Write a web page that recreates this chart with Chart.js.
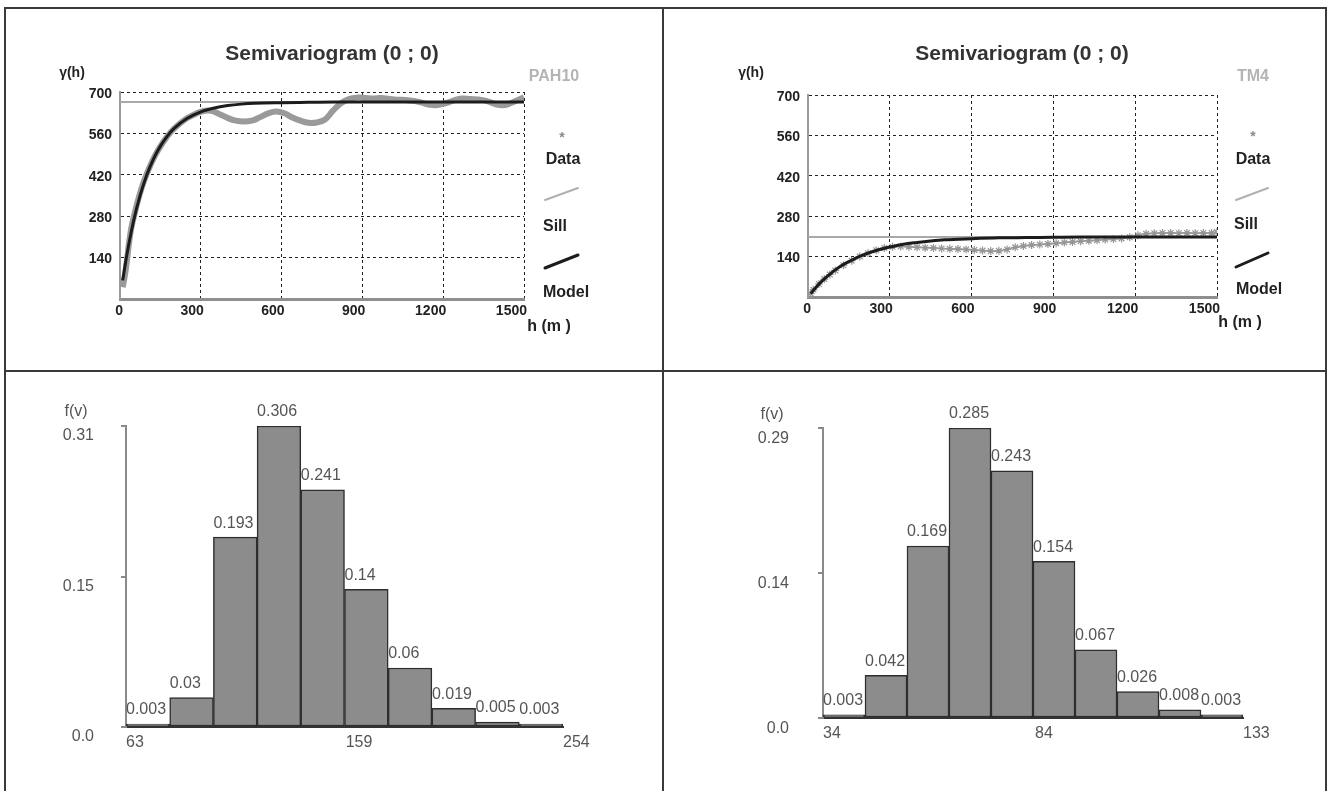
<!DOCTYPE html>
<html lang="en">
<head>
    <meta charset="UTF-8">
    <title>Semivariograms and histograms</title>
    <style type="text/css">
        body { margin: 0; background: #fff; width: 1329px; height: 791px; overflow: hidden; position: relative; }
        .rule { position: absolute; background: #3a3a3a; }
        canvas { position: absolute; }
    </style>
</head>
<body>
    <div class="rule" style="left:4px;top:7px;width:1323px;height:2px"></div>
    <div class="rule" style="left:4px;top:7px;width:2px;height:784px"></div>
    <div class="rule" style="left:1325px;top:7px;width:2px;height:784px"></div>
    <div class="rule" style="left:662px;top:7px;width:2px;height:784px"></div>
    <div class="rule" style="left:4px;top:370px;width:1323px;height:2px"></div>

    <canvas id="semiA" width="656" height="361" style="left:6px;top:9px"></canvas>
    <canvas id="semiB" width="660" height="361" style="left:665px;top:9px"></canvas>
    <canvas id="histA" width="656" height="419" style="left:6px;top:372px"></canvas>
    <canvas id="histB" width="660" height="419" style="left:665px;top:372px"></canvas>

    <script src="https://cdn.jsdelivr.net/npm/chart.js"></script>
    <script>
    // semivariogram data (lag h in m)
    const lagModel = [10, 25, 50, 75, 100, 125, 150, 175, 200, 250, 300, 350, 400, 450, 500, 600, 700, 800, 900, 1000, 1100, 1200, 1300, 1400, 1500];
    const modelPAH10 = [63, 147, 262, 351, 421, 475, 517, 550, 576, 611, 633, 646, 654, 659, 662, 664, 665, 666, 666, 666, 666, 666, 666, 666, 666];
    const modelTM4 = [12, 29, 54, 75, 94, 110, 123, 135, 145, 161, 173, 183, 189, 194, 198, 202, 205, 206, 207, 208, 208, 208, 208, 208, 208];

    const lagData = [10, 20, 40, 60, 80, 100, 130, 160, 190, 220, 250, 280, 310, 340, 370, 400, 430, 460, 490, 520,
        550, 580, 610, 640, 670, 700, 730, 760, 790, 820, 850, 880, 910, 940, 970, 1000, 1030, 1060, 1090, 1120,
        1150, 1180, 1210, 1240, 1270, 1300, 1330, 1360, 1390, 1420, 1450, 1480, 1500];
    const dataPAH10 = [40, 90, 230, 310, 375, 425, 485, 530, 566, 592, 612, 626, 636, 636, 625, 612, 603, 600, 603, 615,
        628, 634, 628, 614, 603, 596, 597, 606, 636, 662, 676, 681, 680, 678, 680, 676, 674, 673, 670, 664,
        657, 656, 662, 672, 678, 676, 675, 670, 660, 655, 662, 674, 682];
    const dataTM4 = [12, 25, 45, 62, 78, 92, 110, 126, 140, 152, 162, 170, 174, 175, 174, 172, 171, 170, 168, 167,
        166, 165, 163, 161, 159, 160, 165, 172, 177, 180, 182, 184, 186, 189, 191, 193, 195, 197, 199, 201,
        203, 207, 214, 219, 221, 222, 222, 221, 222, 221, 222, 222, 225];

    const sillPAH10 = 666;
    const sillTM4 = 208;

    // histogram data
    const binCentersPAH = [72.55, 91.65, 110.75, 129.85, 148.95, 168.05, 187.15, 206.25, 225.35, 244.45];
    const freqPAH = [0.003, 0.03, 0.193, 0.306, 0.241, 0.14, 0.06, 0.019, 0.005, 0.003];
    const xTicksPAH = [63, 159, 254];
    const yTicksPAH = [0, 0.153, 0.306];
    const yLabelsPAH = ['0.0', '0.15', '0.31'];

    const binCentersTM = [38.95, 48.85, 58.75, 68.65, 78.55, 88.45, 98.35, 108.25, 118.15, 128.05];
    const freqTM = [0.003, 0.042, 0.169, 0.285, 0.243, 0.154, 0.067, 0.026, 0.008, 0.003];
    const xTicksTM = [34, 84, 133];
    const yTicksTM = [0, 0.1425, 0.285];
    const yLabelsTM = ['0.0', '0.14', '0.29'];

    const FONT = "'Liberation Sans', Arial, sans-serif";

    // extra texts and legend marks drawn on top of a chart
    function decor(items) {
        return {
            id: 'decor',
            afterDraw(chart) {
                const ctx = chart.ctx;
                ctx.save();
                items.forEach(t => {
                    if (t.line) {
                        ctx.strokeStyle = t.color;
                        ctx.lineWidth = t.width;
                        ctx.lineCap = 'round';
                        ctx.beginPath();
                        ctx.moveTo(t.line[0], t.line[1]);
                        ctx.lineTo(t.line[2], t.line[3]);
                        ctx.stroke();
                        return;
                    }
                    ctx.font = t.font;
                    ctx.fillStyle = t.color;
                    ctx.textAlign = 'center';
                    ctx.textBaseline = 'middle';
                    ctx.fillText(t.text, t.x, t.y);
                });
                ctx.restore();
            }
        };
    }

    function semivariogram(id, model, data, sill, pad, items, dataStyle) {
        const toXY = (xs, ys) => xs.map((x, i) => ({ x: x, y: ys[i] }));
        return new Chart(document.getElementById(id), {
            type: 'line',
            data: {
                datasets: [{
                    label: 'Model',
                    data: toXY(lagModel, model),
                    borderColor: '#1c1c1c',
                    borderWidth: 3,
                    pointRadius: 0,
                    cubicInterpolationMode: 'monotone',
                    order: 1
                }, Object.assign({
                    label: 'Data',
                    data: toXY(lagData, data),
                    order: 2
                }, dataStyle), {
                    label: 'Sill',
                    data: [{ x: 0, y: sill }, { x: 1500, y: sill }],
                    borderColor: '#a9a9a9',
                    borderWidth: 2,
                    pointRadius: 0,
                    order: 3
                }]
            },
            options: {
                responsive: false,
                animation: false,
                events: [],
                layout: { padding: pad },
                plugins: { legend: { display: false }, tooltip: { enabled: false } },
                scales: {
                    x: {
                        type: 'linear',
                        min: 0,
                        max: 1500,
                        afterFit: s => { s.height = 20; },
                        ticks: {
                            stepSize: 300,
                            autoSkip: false,
                            maxRotation: 0,
                            align: 'end',
                            labelOffset: 3,
                            padding: 4,
                            color: '#222',
                            font: { family: FONT, size: 14, weight: 'bold' },
                            callback: v => String(v)
                        },
                        grid: { color: '#222', lineWidth: 1, drawTicks: false },
                        border: { color: '#8f8f8f', width: 3, dash: [3, 3] }
                    },
                    y: {
                        min: 0,
                        max: 700,
                        afterFit: s => { s.width = 40; },
                        ticks: {
                            stepSize: 140,
                            padding: 8,
                            labelOffset: 2,
                            color: '#222',
                            font: { family: FONT, size: 14, weight: 'bold' },
                            callback: v => (v === 0 ? '' : String(v))
                        },
                        grid: { color: '#222', lineWidth: 1, drawTicks: false },
                        border: { color: '#9a9a9a', width: 2, dash: [3, 3] }
                    }
                }
            },
            plugins: [decor(items)]
        });
    }

    function semiItems(p) {
        const bold = s => 'bold ' + s + 'px ' + FONT;
        return [
            { text: 'Semivariogram (0 ; 0)', x: p.title[0], y: p.title[1], font: bold(21), color: '#333' },
            { text: 'γ(h)', x: p.gamma[0], y: p.gamma[1], font: bold(14), color: '#222' },
            { text: p.name, x: p.name_at[0], y: p.name_at[1], font: bold(16), color: '#b4b4b4' },
            { text: '*', x: p.star[0], y: p.star[1], font: bold(14), color: '#8a8a8a' },
            { text: 'Data', x: p.data[0], y: p.data[1], font: bold(16), color: '#222' },
            { line: p.sillSeg, color: '#b0b0b0', width: 2 },
            { text: 'Sill', x: p.sill[0], y: p.sill[1], font: bold(16), color: '#222' },
            { line: p.modelSeg, color: '#1c1c1c', width: 3 },
            { text: 'Model', x: p.model[0], y: p.model[1], font: bold(16), color: '#222' },
            { text: 'h (m )', x: p.h[0], y: p.h[1], font: bold(16), color: '#222' }
        ];
    }

    semivariogram('semiA', modelPAH10, dataPAH10, sillPAH10,
        { left: 74, right: 138, top: 83, bottom: 51 },
        semiItems({
            title: [326, 45], gamma: [66, 64], name: 'PAH10', name_at: [548, 68],
            star: [556, 129], data: [557, 151], sillSeg: [539, 191, 572, 179], sill: [549, 218],
            modelSeg: [539, 259, 572, 246], model: [560, 284], h: [543, 318]
        }),
        { borderColor: '#9a9a9a', borderWidth: 6, pointRadius: 0, tension: 0.4 });

    semivariogram('semiB', modelTM4, dataTM4, sillTM4,
        { left: 103, right: 108, top: 86, bottom: 53 },
        semiItems({
            title: [357, 45], gamma: [86, 64], name: 'TM4', name_at: [588, 68],
            star: [588, 128], data: [588, 151], sillSeg: [571, 191, 603, 179], sill: [581, 216],
            modelSeg: [571, 258, 603, 244], model: [594, 281], h: [575, 314]
        }),
        { borderColor: '#a6a6a6', borderWidth: 2, pointStyle: 'star', pointRadius: 4,
          pointBorderColor: '#959595', pointBorderWidth: 1.2, tension: 0.3 });

    // bar value labels, drawn before the bars so taller bars cover them
    const barLabels = {
        id: 'barLabels',
        beforeDatasetsDraw(chart) {
            const ctx = chart.ctx;
            const vals = chart.data.datasets[0].data;
            ctx.save();
            ctx.font = '16px ' + FONT;
            ctx.fillStyle = '#555';
            ctx.textAlign = 'left';
            ctx.textBaseline = 'middle';
            chart.getDatasetMeta(0).data.forEach((bar, i) => {
                ctx.fillText(String(vals[i].y), bar.x - bar.width / 2, bar.y - 14);
            });
            ctx.restore();
        }
    };

    function histogram(id, centers, freq, xTicks, yTicks, yLabels, min, max, pad, yPad, yOff, fvAt) {
        return new Chart(document.getElementById(id), {
            type: 'bar',
            data: {
                datasets: [{
                    data: centers.map((c, i) => ({ x: c, y: freq[i] })),
                    backgroundColor: '#8c8c8c',
                    borderColor: '#2e2e2e',
                    borderWidth: 1.5,
                    borderSkipped: false,
                    barPercentage: 1,
                    categoryPercentage: 1
                }]
            },
            options: {
                responsive: false,
                animation: false,
                events: [],
                layout: { padding: pad },
                plugins: { legend: { display: false }, tooltip: { enabled: false } },
                scales: {
                    x: {
                        type: 'linear',
                        min: min,
                        max: max,
                        offset: false,
                        afterFit: s => { s.height = 30; },
                        afterBuildTicks: s => { s.ticks = xTicks.map(v => ({ value: v })); },
                        ticks: {
                            autoSkip: false,
                            maxRotation: 0,
                            align: 'start',
                            padding: 6,
                            color: '#555',
                            font: { family: FONT, size: 16 },
                            callback: v => String(v)
                        },
                        grid: { display: false, drawTicks: false },
                        border: { color: '#333', width: 2 }
                    },
                    y: {
                        min: 0,
                        max: yTicks[yTicks.length - 1],
                        afterFit: s => { s.width = 100; },
                        afterBuildTicks: s => { s.ticks = yTicks.map(v => ({ value: v })); },
                        ticks: {
                            padding: yPad,
                            labelOffset: yOff,
                            color: '#555',
                            font: { family: FONT, size: 16 },
                            callback: (v, i) => yLabels[i]
                        },
                        grid: { drawOnChartArea: false, drawTicks: true, tickLength: 5, color: '#8a8a8a', lineWidth: 2 },
                        border: { color: '#8a8a8a', width: 2 }
                    }
                }
            },
            plugins: [barLabels, decor([{ text: 'f(v)', x: fvAt[0], y: fvAt[1], font: '16px ' + FONT, color: '#555' }])]
        });
    }

    histogram('histA', binCentersPAH, freqPAH, xTicksPAH, yTicksPAH, yLabelsPAH, 63, 254,
        { left: 20, right: 99, top: 54, bottom: 34 }, 27, 10, [70, 40]);
    histogram('histB', binCentersTM, freqTM, xTicksTM, yTicksTM, yLabelsTM, 34, 133,
        { left: 58, right: 82, top: 56, bottom: 43 }, 29, 11, [107, 43]);
    </script>
</body>
</html>
